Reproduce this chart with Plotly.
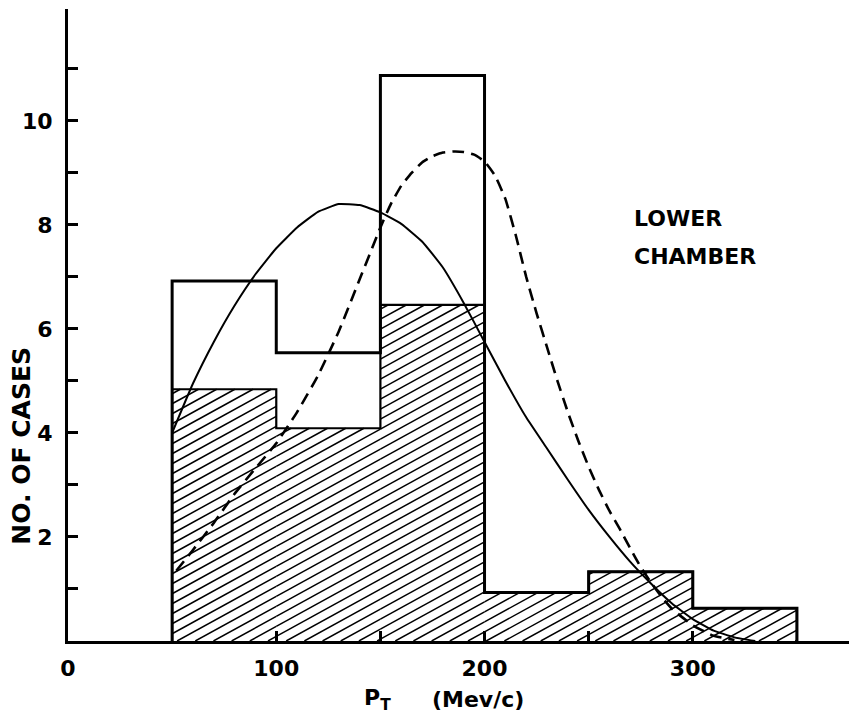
import plotly.graph_objects as go

# Histogram bins (P_T in MeV/c)
bin_edges = [50, 100, 150, 200, 250, 300, 350]
all_cases = [6.92, 5.54, 10.87, 0.93, 1.33, 0.63]      # open histogram
hatched_cases = [4.84, 4.09, 6.46, 0.93, 1.33, 0.63]  # hatched histogram

# Solid theoretical curve
solid_x = [50, 60, 70, 80, 90, 100, 110, 120, 130, 140, 150, 160, 170, 180,
           190, 200, 210, 220, 230, 240, 250, 260, 270, 280, 290, 300, 310, 320, 330]
solid_y = [4.0, 4.95, 5.75, 6.45, 7.05, 7.55, 7.95, 8.25, 8.40, 8.38, 8.24, 8.02, 7.68, 7.18,
           6.5, 5.75, 5.0, 4.3, 3.7, 3.1, 2.52, 2.0, 1.52, 1.1, 0.72, 0.42, 0.2, 0.07, 0.0]

# Dashed theoretical curve
dash_x = [52, 60, 70, 80, 90, 100, 110, 120, 130, 140, 145, 150, 155, 160, 165, 170, 175,
          180, 185, 190, 195, 200, 205, 210, 215, 220, 225, 230, 235, 240, 245, 250, 255,
          260, 265, 270, 275, 280, 285, 290, 300, 310, 320]
dash_y = [1.35, 1.75, 2.27, 2.83, 3.32, 3.8, 4.4, 5.1, 5.95, 6.95, 7.45, 7.95, 8.4, 8.75,
          9.0, 9.2, 9.32, 9.39, 9.41, 9.4, 9.35, 9.22, 8.95, 8.5, 7.8, 7.0, 6.3, 5.65, 5.0,
          4.4, 3.85, 3.35, 2.9, 2.5, 2.15, 1.78, 1.42, 1.12, 0.85, 0.62, 0.3, 0.1, 0.02]

x_tick_vals = [0, 100, 200, 300]
x_tick_text = ["0", "100", "200", "300"]
x_minor_vals = [150, 250]
y_tick_vals = [2, 4, 6, 8, 10]
y_tick_text = ["2", "4", "6", "8", "10"]
y_minor_vals = [1, 3, 5, 7, 9, 11]

X_RANGE = [0, 375]
Y_RANGE = [0, 12.15]
W, H = 849, 718
MARGIN = dict(l=68, r=0, t=9, b=77)

FONT = "DejaVu Sans"


def step_outline(edges, heights):
    xs, ys = [edges[0]], [0]
    for i, h in enumerate(heights):
        xs += [edges[i], edges[i + 1]]
        ys += [h, h]
    xs.append(edges[-1])
    ys.append(0)
    return xs, ys


def hatch_segments(edges, heights, slope, spacing):
    """Shallow '/' hatching clipped to each bin of the histogram."""
    xs, ys = [], []
    top = max(heights)
    k_min = int(-(slope * edges[-1]) / spacing) - 2
    k_max = int(top / spacing) + 2
    for k in range(k_min, k_max + 1):
        c = k * spacing
        for i, h in enumerate(heights):
            xl, xr = edges[i], edges[i + 1]
            x0 = max(xl, (0 - c) / slope)
            x1 = min(xr, (h - c) / slope)
            if x1 > x0:
                xs += [x0, x1, None]
                ys += [c + slope * x0, c + slope * x1, None]
    return xs, ys


# pixel scale of the plotting area, used to set the hatch angle
px_per_x = (W - MARGIN["l"] - MARGIN["r"]) / (X_RANGE[1] - X_RANGE[0])
px_per_y = (H - MARGIN["t"] - MARGIN["b"]) / (Y_RANGE[1] - Y_RANGE[0])
hatch_slope = 0.55 * px_per_x / px_per_y
hatch_spacing = 10.0 / px_per_y

fig = go.Figure()

hx, hy = hatch_segments(bin_edges, hatched_cases, hatch_slope, hatch_spacing)
fig.add_trace(go.Scatter(x=hx, y=hy, mode="lines",
                         line=dict(color="black", width=1.5), hoverinfo="skip"))

ix, iy = step_outline(bin_edges, hatched_cases)
fig.add_trace(go.Scatter(x=ix, y=iy, mode="lines",
                         line=dict(color="black", width=2.2)))

ox, oy = step_outline(bin_edges, all_cases)
fig.add_trace(go.Scatter(x=ox, y=oy, mode="lines",
                         line=dict(color="black", width=3)))

fig.add_trace(go.Scatter(x=solid_x, y=solid_y, mode="lines",
                         line=dict(color="black", width=2, shape="spline", smoothing=0.4)))
fig.add_trace(go.Scatter(x=dash_x, y=dash_y, mode="lines",
                         line=dict(color="black", width=2.6, dash="12px,7px",
                                   shape="spline", smoothing=0.4)))

label_font = dict(family=FONT, size=22, color="black", weight=700)
tick_style = dict(ticks="inside", ticklen=10, tickwidth=2.5, tickcolor="black")

fig.update_layout(
    width=W, height=H, margin=MARGIN,
    paper_bgcolor="white", plot_bgcolor="white",
    showlegend=False,
    xaxis=dict(range=X_RANGE, showgrid=False, zeroline=False,
               showline=True, linecolor="black", linewidth=3,
               tickmode="array", tickvals=x_tick_vals, ticktext=x_tick_text,
               minor=dict(tickmode="array", tickvals=x_minor_vals, showgrid=False, **tick_style),
               tickfont=label_font, ticklabelstandoff=6, **tick_style),
    yaxis=dict(range=Y_RANGE, showgrid=False, zeroline=False,
               showline=True, linecolor="black", linewidth=3,
               tickmode="array", tickvals=y_tick_vals, ticktext=y_tick_text,
               minor=dict(tickmode="array", tickvals=y_minor_vals, showgrid=False, **tick_style),
               tickfont=label_font, ticklabelstandoff=8, **tick_style),
)

fig.add_annotation(text="LOWER", x=271, y=8.125, xref="x", yref="y",
                   xanchor="left", yanchor="middle", showarrow=False,
                   font=dict(family=FONT, size=22, color="black", weight=700))
fig.add_annotation(text="CHAMBER", x=271, y=7.39, xref="x", yref="y",
                   xanchor="left", yanchor="middle", showarrow=False,
                   font=dict(family=FONT, size=22, color="black", weight=700))

fig.add_annotation(text="NO. OF CASES", x=-0.059, y=0.309, xref="paper", yref="paper",
                   xanchor="center", yanchor="middle", textangle=-90, showarrow=False,
                   font=dict(family=FONT, size=25, color="black", weight=700))

fig.add_annotation(text="P<sub>T</sub>", x=0.396, y=-0.093, xref="paper", yref="paper",
                   xanchor="center", yanchor="middle", showarrow=False,
                   font=dict(family=FONT, size=22, color="black", weight=700))
fig.add_annotation(text="(Mev/c)", x=0.525, y=-0.093, xref="paper", yref="paper",
                   xanchor="center", yanchor="middle", showarrow=False,
                   font=dict(family=FONT, size=22, color="black", weight=700))

fig.write_html("out.html")
